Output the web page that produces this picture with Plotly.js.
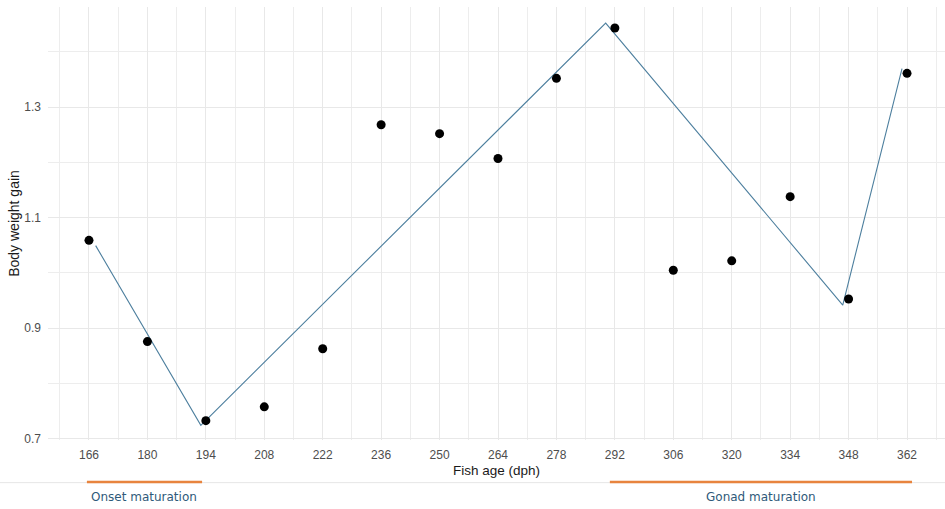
<!DOCTYPE html>
<html>
<head>
<meta charset="utf-8">
<script src="https://cdn.plot.ly/plotly-3.0.1.min.js"></script>
<style>
  html, body { margin: 0; padding: 0; background: #ffffff; }
  #chart { width: 945px; height: 509px; }
</style>
</head>
<body>
<div id="chart"></div>
<script>
// Observed body weight gain by fish age (days post hatch)
const ageDph = [166, 180, 194, 208, 222, 236, 250, 264, 278, 292, 306, 320, 334, 348, 362];
const weightGain = [1.059, 0.876, 0.733, 0.758, 0.863, 1.268, 1.252, 1.207, 1.352, 1.443, 1.005, 1.022, 1.138, 0.953, 1.361];

// Piecewise (segmented) fit: breakpoints of the fitted line
const fitAge = [167.6, 192.8, 289.8, 346.6, 360.8];
const fitGain = [1.0495, 0.7245, 1.452, 0.942, 1.3696];

// Developmental phases marked under the axis
const phaseNames = ["Onset maturation", "Gonad maturation"];
const phaseStart = [165.5, 290.8];
const phaseEnd = [193.1, 363.2];

const xTicks = ageDph;

const traces = [
  {
    x: fitAge, y: fitGain, type: "scatter", mode: "lines",
    line: { color: "#4d7f9e", width: 1.1 },
    hoverinfo: "skip", showlegend: false
  },
  {
    x: ageDph, y: weightGain, type: "scatter", mode: "markers",
    marker: { color: "#000000", size: 9 },
    showlegend: false
  }
];

const shapes = [
  {
    type: "line", xref: "paper", yref: "paper",
    x0: -0.06, x1: 1.0, y0: -0.0985, y1: -0.0985,
    line: { color: "#e6e6e6", width: 1 }
  }
];
const annotations = [];
phaseNames.forEach((name, i) => {
  shapes.push({
    type: "line", xref: "x", yref: "paper",
    x0: phaseStart[i], x1: phaseEnd[i], y0: -0.097, y1: -0.097,
    line: { color: "#e8843e", width: 2.5 }
  });
  annotations.push({
    text: name, xref: "x", yref: "paper",
    x: (phaseStart[i] + phaseEnd[i]) / 2, y: -0.1316,
    xanchor: "center", yanchor: "middle", showarrow: false,
    font: { family: "DejaVu Sans", size: 12, color: "#2f5a7a" }
  });
});

const layout = {
  width: 945, height: 509,
  margin: { l: 48, r: 0, t: 7, b: 69 },
  paper_bgcolor: "#ffffff", plot_bgcolor: "#ffffff",
  font: { family: "Liberation Sans, Arial, sans-serif", color: "#4d4d4d" },
  xaxis: {
    range: [156.18, 371.1],
    tickmode: "array", tickvals: xTicks, ticktext: xTicks.map(String),
    showgrid: true, gridcolor: "#e8e8e8", gridwidth: 1,
    minor: { tickmode: "linear", tick0: 159, dtick: 7, showgrid: true, gridcolor: "#ededed", gridwidth: 1 },
    zeroline: false, showline: false, ticks: "",
    ticklabelstandoff: 6,
    tickfont: { size: 12, color: "#4d4d4d" },
    title: { text: "Fish age (dph)", standoff: 4, font: { size: 13.5, color: "#1a1a1a" } }
  },
  yaxis: {
    range: [0.698, 1.481],
    tickmode: "linear", tick0: 0.7, dtick: 0.2, tickformat: ".1f",
    showgrid: true, gridcolor: "#e8e8e8", gridwidth: 1,
    minor: { tickmode: "linear", tick0: 0.8, dtick: 0.1, showgrid: true, gridcolor: "#ededed", gridwidth: 1 },
    zeroline: false, showline: false, ticks: "",
    ticklabelstandoff: 6,
    tickfont: { size: 12, color: "#4d4d4d" },
    title: { text: "Body weight gain", standoff: 1, font: { size: 14, color: "#1a1a1a" } }
  },
  shapes: shapes,
  annotations: annotations
};

Plotly.newPlot("chart", traces, layout, { displayModeBar: false, staticPlot: true });
</script>
</body>
</html>
